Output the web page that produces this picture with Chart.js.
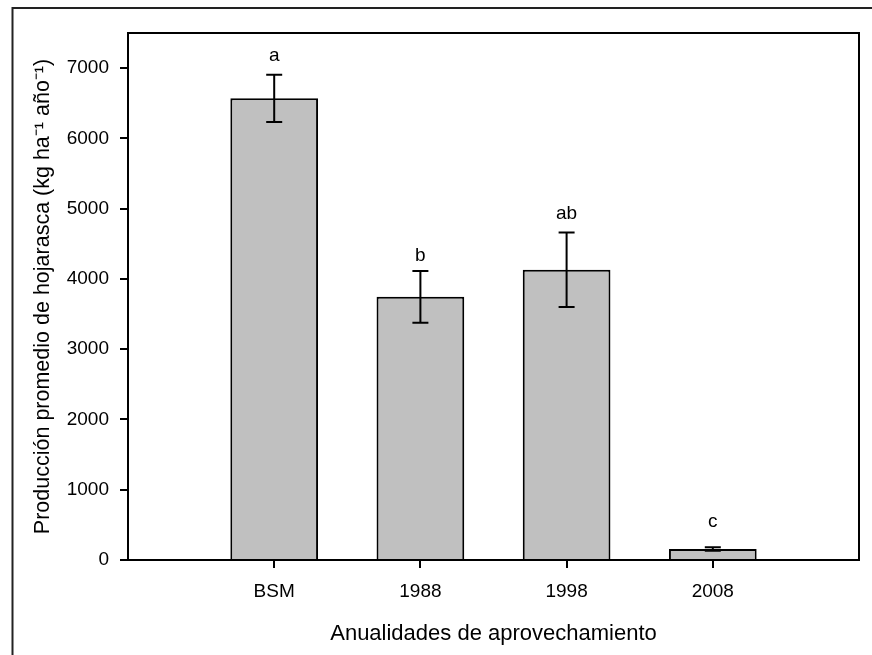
<!DOCTYPE html>
<html>
<head>
<meta charset="utf-8">
<script src="https://cdn.jsdelivr.net/npm/chart.js@4"></script>
<style>
  html, body { margin: 0; padding: 0; background: #fff; }
  #wrap { width: 872px; height: 655px; }
</style>
</head>
<body>
<div id="wrap"><canvas id="chart" width="872" height="655"></canvas></div>
<script>
// Litter production per harvest year (mean +/- error) with significance letters
const categories = ['BSM', '1988', '1998', '2008'];
const means = [6570, 3745, 4130, 157];
const errors = [335, 367, 530, 25];
const letters = ['a', 'b', 'ab', 'c'];
const letterY = [7100, 4250, 4860, 470];
const yTicks = [0, 1000, 2000, 3000, 4000, 5000, 6000, 7000];

// bars sit at x = 1..4 on a 0..5 axis
const xPos = categories.map((c, i) => i + 1);

Chart.defaults.font.family = '"Liberation Sans", Arial, sans-serif';
Chart.defaults.color = '#000';

// outer frame, plot box, error bars and letters
const extras = {
    id: 'extras',
    beforeDraw(chart) {
        const ctx = chart.ctx;
        ctx.save();
        ctx.fillStyle = '#fff';
        ctx.fillRect(0, 0, chart.width, chart.height);
        ctx.strokeStyle = '#222';
        ctx.lineWidth = 2;
        ctx.beginPath();
        ctx.moveTo(12.5, chart.height);
        ctx.lineTo(12.5, 8);
        ctx.lineTo(chart.width, 8);
        ctx.stroke();
        ctx.restore();
    },
    afterDatasetsDraw(chart) {
        const ctx = chart.ctx;
        const xs = chart.scales.x, ys = chart.scales.y;
        const a = chart.chartArea;
        ctx.save();
        ctx.strokeStyle = '#000';
        ctx.lineWidth = 2;
        xPos.forEach((p, i) => {
            const x = xs.getPixelForValue(p);
            const yt = ys.getPixelForValue(means[i] + errors[i]);
            const yb = ys.getPixelForValue(means[i] - errors[i]);
            ctx.beginPath();
            ctx.moveTo(x, yt); ctx.lineTo(x, yb);
            ctx.moveTo(x - 8, yt); ctx.lineTo(x + 8, yt);
            ctx.moveTo(x - 8, yb); ctx.lineTo(x + 8, yb);
            ctx.stroke();
        });
        ctx.strokeRect(a.left, a.top, a.right - a.left, a.bottom - a.top);
        ctx.fillStyle = '#000';
        ctx.font = '19px "Liberation Sans", Arial, sans-serif';
        ctx.textAlign = 'center';
        ctx.textBaseline = 'alphabetic';
        xPos.forEach((p, i) => {
            ctx.fillText(letters[i], xs.getPixelForValue(p), ys.getPixelForValue(letterY[i]));
        });
        ctx.restore();
    }
};

new Chart(document.getElementById('chart').getContext('2d'), {
    type: 'bar',
    data: {
        datasets: [{
            data: xPos.map((p, i) => ({ x: p, y: means[i] })),
            backgroundColor: '#c0c0c0',
            borderColor: '#000',
            borderWidth: 2,
            borderSkipped: 'start',
            barPercentage: 0.6,
            categoryPercentage: 1
        }]
    },
    options: {
        responsive: false,
        animation: false,
        layout: { padding: { left: 0, top: 33, right: 13, bottom: 0 } },
        plugins: { legend: { display: false }, tooltip: { enabled: false } },
        scales: {
            x: {
                type: 'linear',
                min: 0,
                max: 5,
                offset: false,
                afterBuildTicks: s => { s.ticks = xPos.map(v => ({ value: v })); },
                afterFit: s => { s.height = 95; },
                grid: { offset: false, drawOnChartArea: false, tickLength: 8, color: '#000', lineWidth: 2 },
                border: { color: '#000', width: 2 },
                ticks: {
                    padding: 12,
                    font: { size: 19 },
                    callback: v => categories[v - 1]
                },
                title: {
                    display: true,
                    text: 'Anualidades de aprovechamiento',
                    font: { size: 22 },
                    padding: { top: 0, bottom: 8 }
                }
            },
            y: {
                min: 0,
                max: 7500,
                afterBuildTicks: s => { s.ticks = yTicks.map(v => ({ value: v })); },
                afterFit: s => { s.width = 128; },
                grid: { drawOnChartArea: false, tickLength: 8, color: '#000', lineWidth: 2 },
                border: { color: '#000', width: 2 },
                ticks: { padding: 11, font: { size: 19 }, callback: v => String(v) },
                title: {
                    display: true,
                    text: 'Producción promedio de hojarasca (kg ha⁻¹ año⁻¹)',
                    font: { size: 21.5 },
                    padding: { top: 30, bottom: 0 }
                }
            }
        }
    },
    plugins: [extras]
});
</script>
</body>
</html>
